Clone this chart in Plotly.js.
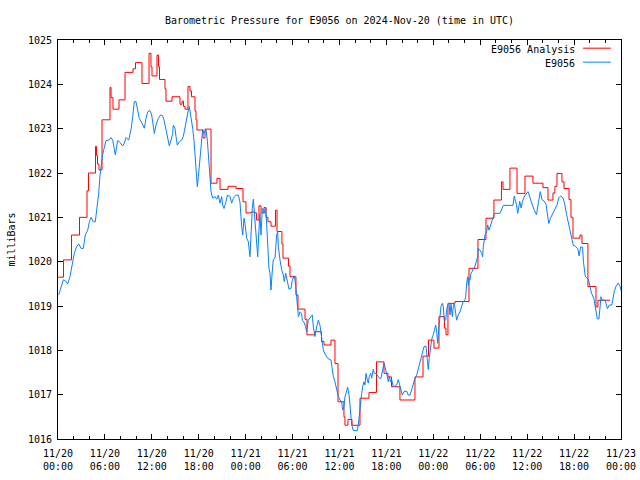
<!DOCTYPE html>
<html>
<head>
<meta charset="utf-8">
<script src="https://cdn.plot.ly/plotly-3.0.1.min.js"></script>
<style>html,body{margin:0;padding:0;background:#fff;}#chart{width:640px;height:480px;}</style>
</head>
<body>
<div id="chart"></div>
<script>
// Hours after 2024-11-20 00:00 UTC and pressure (mbar)
const analysisHours = [0,0.70,1.73,2.75,3.71,3.90,4.80,4.92,5.05,5.24,
5.63,6.65,6.78,7.03,7.80,8.57,9.59,9.91,10.74,11.64,
11.89,12.02,12.66,12.85,12.98,13.68,13.81,14.58,15.60,15.86,
16.05,16.24,16.62,16.88,17.07,17.52,17.65,17.77,18.54,18.80,
19.57,20.33,20.72,21.74,22.76,23.66,24.04,24.68,25.19,25.38,
25.70,25.96,26.34,26.60,26.85,27.24,27.81,28.01,28.64,28.77,
29.48,29.67,30.43,30.69,31.59,31.84,32.86,33.70,34.02,34.91,
35.42,35.81,36.57,36.70,37.08,37.60,38.62,39.77,40.73,41.69,
42.20,42.65,43.73,45.65,46.68,47.38,48.08,48.72,49.42,49.62,
49.87,50.77,52.56,53.71,54.73,55.75,56.71,56.91,57.80,58.70,
59.72,60.74,62.02,62.66,63.30,63.55,63.81,64.45,64.71,65.35,
65.60,65.86,66.75,67.01,67.77,68.80,69.05,70.59];
const analysisPressure = [1019.65,1020.04,1020.60,1021.00,1021.60,1022.00,1022.60,1022.40,1022.20,1022.07,
1023.20,1023.93,1023.70,1023.44,1023.65,1024.27,1024.35,1024.49,1024.02,1024.70,
1024.40,1024.19,1024.66,1024.40,1024.11,1023.90,1023.62,1023.72,1023.55,1023.62,
1023.50,1023.44,1023.95,1023.85,1023.72,1023.40,1023.20,1022.97,1022.79,1022.99,
1021.77,1021.88,1021.63,1021.70,1021.65,1021.35,1021.10,1021.12,1021.10,1020.94,
1021.26,1021.10,1021.22,1021.00,1020.90,1020.80,1021.16,1020.68,1020.40,1020.08,
1019.90,1019.66,1019.25,1018.93,1018.70,1018.35,1018.42,1018.20,1018.12,1018.23,
1017.70,1016.84,1016.50,1016.31,1016.44,1016.31,1016.92,1017.05,1017.74,1017.48,
1017.40,1017.18,1016.88,1017.40,1017.87,1018.23,1018.05,1018.76,1018.50,1018.35,
1019.06,1019.10,1019.85,1020.50,1020.98,1021.39,1021.80,1021.63,1022.11,1021.54,
1021.93,1021.77,1021.67,1021.39,1021.55,1021.70,1021.99,1021.80,1021.65,1021.40,
1021.00,1020.53,1020.60,1020.41,1019.44,1018.98,1019.13,1019.13];

const stationHours = [0.09,0.38,0.68,0.94,1.24,1.53,1.79,2.09,2.39,2.65,
2.94,3.24,3.49,3.80,4.01,4.22,4.52,4.77,4.95,5.20,
5.37,5.50,5.71,5.93,6.14,6.48,6.78,6.99,7.20,7.33,
7.63,7.84,8.27,8.48,8.70,9.04,9.21,9.37,9.55,9.76,
9.97,10.19,10.40,10.74,11.04,11.25,11.47,11.76,11.98,12.19,
12.32,12.53,12.83,13.13,13.38,13.55,13.81,13.98,14.24,14.45,
14.66,14.75,14.96,15.09,15.26,15.52,15.81,16.03,16.24,16.45,
16.67,16.79,16.97,17.22,17.39,17.52,17.65,17.82,17.95,18.16,
18.37,18.50,18.67,18.93,19.10,19.23,19.44,19.57,19.78,20.08,
20.29,20.50,20.72,20.93,21.06,21.23,21.48,21.65,22.00,22.21,
22.42,22.76,23.06,23.27,23.49,23.62,23.79,23.91,24.13,24.34,
24.55,24.68,24.85,24.98,25.10,25.28,25.41,25.54,25.70,25.83,
25.96,26.13,26.39,26.56,26.69,26.82,26.98,27.11,27.24,27.41,
27.53,27.75,27.84,27.97,28.09,28.18,28.39,28.61,28.82,28.94,
29.12,29.37,29.54,29.80,29.97,30.22,30.40,30.52,30.65,30.74,
30.95,31.16,31.25,31.50,31.67,31.80,32.01,32.35,32.52,32.65,
32.86,33.08,33.29,33.50,33.63,33.80,33.93,34.14,34.48,34.91,
35.21,35.42,35.64,35.85,36.06,36.28,36.40,36.57,36.70,36.92,
37.05,37.25,37.43,37.56,37.76,38.27,38.40,38.53,38.71,38.84,
38.96,39.13,39.26,39.39,39.55,39.68,39.81,39.99,40.11,40.32,
40.45,40.66,40.83,41.09,41.30,41.52,41.69,41.82,41.94,42.11,
42.24,42.37,42.54,42.67,42.88,43.09,43.31,43.52,43.64,43.82,
44.03,44.25,44.59,44.80,45.01,45.23,45.44,45.65,45.87,46.08,
46.29,46.51,46.80,47.06,47.23,47.35,47.48,47.66,47.79,47.99,
48.12,48.30,48.43,48.55,48.72,48.85,48.98,49.14,49.27,49.40,
49.58,49.71,49.83,50.00,50.13,50.26,50.43,50.55,50.68,50.86,
50.98,51.19,51.41,51.62,51.83,52.05,52.14,52.26,52.39,52.47,
52.56,52.69,52.81,52.98,53.11,53.24,53.41,53.67,53.75,53.96,
54.18,54.31,54.39,54.52,54.60,54.82,54.95,55.12,55.24,55.37,
55.54,55.67,55.80,56.52,56.96,58.18,58.35,58.62,58.79,59.05,
59.23,59.40,59.67,60.10,60.36,60.66,60.88,61.19,61.41,61.67,
61.89,62.20,62.42,62.63,62.76,62.98,63.29,63.59,63.85,64.03,
64.30,64.59,64.81,65.04,65.26,65.47,65.69,65.91,66.12,66.47,
66.65,66.82,67.08,67.21,67.43,67.79,67.95,68.22,68.53,68.75,
68.97,69.18,69.31,69.44,69.62,69.96,70.27,70.49,70.83,71.14,
71.36,71.66,71.89,72.00];
const stationPressure = [1019.25,1019.44,1019.59,1019.57,1019.50,1019.66,1019.89,1020.19,1020.34,1020.40,
1020.30,1020.30,1020.60,1020.71,1020.90,1021.00,1020.90,1020.90,1021.17,1021.54,
1021.95,1022.16,1022.41,1022.58,1022.73,1022.74,1022.80,1022.74,1022.52,1022.41,
1022.73,1022.71,1022.61,1022.67,1022.80,1022.74,1022.88,1023.01,1023.27,1023.61,
1023.61,1023.38,1023.23,1023.12,1023.01,1023.23,1023.38,1023.41,1023.31,1023.05,
1022.89,1023.08,1023.23,1023.31,1023.29,1023.20,1022.97,1022.78,1022.61,1022.74,
1022.89,1023.08,1023.01,1022.82,1022.63,1022.71,1022.74,1022.83,1023.05,1023.23,
1023.42,1023.50,1023.31,1023.01,1022.74,1022.37,1022.07,1021.69,1021.92,1022.37,
1022.78,1022.98,1022.89,1022.97,1022.74,1022.44,1021.99,1021.58,1021.43,1021.47,
1021.41,1021.50,1021.32,1021.47,1021.28,1021.20,1021.35,1021.50,1021.47,1021.32,
1021.43,1021.50,1021.50,1021.35,1020.79,1020.60,1020.98,1020.86,1020.53,1020.45,
1020.11,1020.71,1021.20,1021.41,1021.13,1020.75,1020.34,1020.11,1020.71,1021.09,
1020.60,1021.20,1021.09,1021.23,1020.83,1020.34,1019.85,1019.74,1019.36,1019.81,
1020.04,1020.08,1020.34,1020.60,1020.68,1020.34,1020.04,1019.81,1019.70,1019.55,
1019.74,1019.51,1019.38,1019.40,1019.59,1019.68,1019.47,1019.21,1019.02,1018.76,
1018.87,1018.83,1018.68,1018.62,1018.53,1018.42,1018.68,1018.76,1018.80,1018.53,
1018.31,1018.53,1018.68,1018.57,1018.42,1018.25,1018.01,1017.92,1017.82,1017.78,
1017.41,1017.29,1017.11,1016.96,1016.88,1016.84,1016.65,1016.73,1016.95,1017.14,
1017.17,1016.95,1016.58,1016.32,1016.19,1016.19,1016.32,1016.58,1016.88,1017.03,
1017.18,1017.29,1017.22,1017.48,1017.33,1017.26,1017.41,1017.48,1017.37,1017.57,
1017.48,1017.48,1017.44,1017.37,1017.37,1017.59,1017.71,1017.63,1017.56,1017.41,
1017.29,1017.41,1017.29,1017.34,1017.18,1017.19,1017.22,1017.34,1017.26,1017.11,
1016.99,1017.07,1017.08,1016.99,1016.99,1017.11,1017.26,1017.37,1017.44,1017.59,
1017.78,1017.89,1018.08,1018.10,1017.78,1017.57,1017.82,1018.08,1018.25,1018.35,
1018.46,1018.57,1018.42,1018.16,1018.53,1018.76,1018.99,1019.06,1018.99,1018.68,
1018.68,1018.91,1019.02,1019.06,1018.80,1019.05,1018.76,1018.99,1019.06,1018.83,
1018.68,1018.80,1018.87,1018.99,1019.10,1019.14,1019.21,1019.51,1019.66,1019.47,
1019.62,1019.59,1019.74,1019.78,1019.85,1019.85,1019.96,1020.11,1020.30,1020.26,
1020.19,1020.11,1020.34,1020.53,1020.60,1020.68,1020.83,1020.71,1020.79,1020.83,
1020.94,1021.01,1021.09,1021.09,1021.27,1021.27,1021.48,1021.29,1021.09,1021.36,
1021.21,1021.36,1021.48,1021.58,1021.44,1021.25,1021.17,1021.06,1021.29,1021.58,
1021.40,1021.36,1021.29,1021.07,1020.86,1020.98,1021.09,1021.17,1021.29,1021.44,
1021.48,1021.44,1021.29,1021.06,1020.90,1020.71,1020.56,1020.36,1020.36,1020.29,
1020.13,1020.33,1020.33,1019.98,1019.67,1019.61,1019.52,1019.29,1019.17,1018.98,
1018.71,1018.71,1018.98,1019.21,1019.13,1019.13,1018.94,1019.02,1019.02,1019.33,
1019.44,1019.52,1019.44,1019.35];

const tickHours = [0,6,12,18,24,30,36,42,48,54,60,66,72];
const tickDays = ["11/20","11/20","11/20","11/20","11/21","11/21","11/21","11/21","11/22","11/22","11/22","11/22","11/23"];
const tickTimes = ["00:00","06:00","12:00","18:00","00:00","06:00","12:00","18:00","00:00","06:00","12:00","18:00","00:00"];
const seriesNames = ["E9056 Analysis","E9056"];
const seriesColors = ["#ff0000","#0a80ff"];

const base = Date.UTC(2024,10,20,0,0,0);
function toDate(h){ return new Date(base + Math.round(h*3600000)).toISOString().slice(0,19).replace('T',' '); }

const FONT = "DejaVu Sans Mono, Liberation Mono, monospace";

const traces = [
  {x: analysisHours.map(toDate), y: analysisPressure, type:'scatter', mode:'lines', name: seriesNames[0],
   line:{color: seriesColors[0], width:1, shape:'hv'}, showlegend:false},
  {x: stationHours.map(toDate), y: stationPressure, type:'scatter', mode:'lines', name: seriesNames[1],
   line:{color: seriesColors[1], width:1}, showlegend:false}
];

const layout = {
  width:640, height:480,
  margin:{l:58, r:19, t:40, b:41},
  paper_bgcolor:'#fff', plot_bgcolor:'#fff',
  font:{family:FONT, size:10, color:'#000'},
  title:{text:'Barometric Pressure for E9056 on 2024-Nov-20 (time in UTC)', font:{family:FONT, size:10, color:'#000'},
         x:0.5, xref:'paper', xanchor:'center', y:1-20/480, yref:'container', yanchor:'middle'},
  xaxis:{type:'date', range:[toDate(0), toDate(72)], tickmode:'array',
         tickvals: tickHours.map(toDate), ticktext: tickDays.map((d,i)=>d+'<br>'+tickTimes[i]),
         ticks:'inside', ticklen:5, tickcolor:'#000', tickwidth:1,
         showline:true, linecolor:'#000', linewidth:1, mirror:'allticks', showgrid:false, zeroline:false,
         ticklabelstandoff:5,
         minor:{dtick:2*3600000, tick0:toDate(0), ticks:'inside', ticklen:3, tickcolor:'#000', showgrid:false},
         tickfont:{family:FONT, size:10, color:'#000'}, fixedrange:true},
  yaxis:{range:[1016,1025], dtick:1, tick0:1016, ticks:'inside', ticklen:5, tickcolor:'#000',
         showline:true, linecolor:'#000', linewidth:1, mirror:'allticks', showgrid:false, zeroline:false,
         ticklabelstandoff:3,
         title:{text:'milliBars', font:{family:FONT, size:10, color:'#000'}, standoff:10},
         tickfont:{family:FONT, size:10, color:'#000'}, fixedrange:true},
  annotations:[
    {text: seriesNames[0], xref:'paper', yref:'paper', x:0.921, y:0.977, xanchor:'right', yanchor:'middle', showarrow:false,
     font:{family:FONT, size:10, color:'#000'}},
    {text: seriesNames[1], xref:'paper', yref:'paper', x:0.921, y:0.94, xanchor:'right', yanchor:'middle', showarrow:false,
     font:{family:FONT, size:10, color:'#000'}}
  ],
  shapes:[
    {type:'line', xref:'paper', yref:'paper', x0:0.9325, x1:0.982, y0:0.9795, y1:0.9795, line:{color:seriesColors[0], width:1}},
    {type:'line', xref:'paper', yref:'paper', x0:0.9325, x1:0.982, y0:0.9445, y1:0.9445, line:{color:seriesColors[1], width:1}}
  ]
};

Plotly.newPlot('chart', traces, layout, {staticPlot:true, displayModeBar:false});
</script>
</body>
</html>
